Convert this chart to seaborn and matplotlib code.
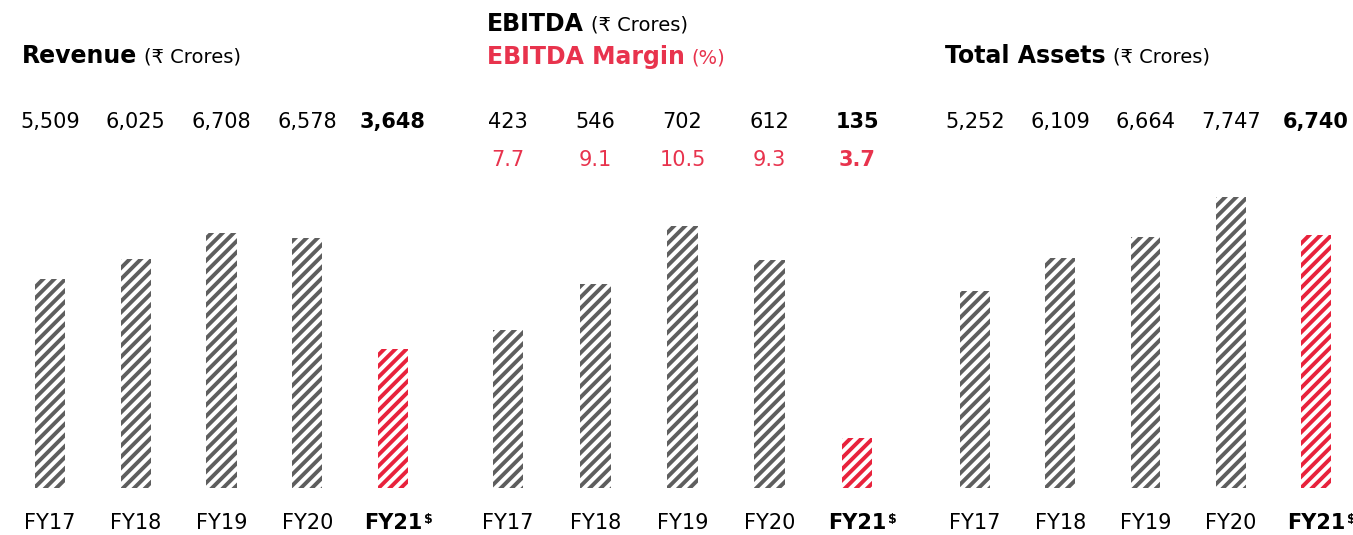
"""
Revenue / EBITDA / Total Assets hatched bar panels, FY17-FY21.
"""

import matplotlib

matplotlib.use("Agg")
import matplotlib.pyplot as plt
import matplotlib.transforms as mtransforms
import seaborn as sns

years = ["FY17", "FY18", "FY19", "FY20", "FY21"]
revenue = [5509, 6025, 6708, 6578, 3648]
ebitda = [423, 546, 702, 612, 135]
ebitda_margin = [7.7, 9.1, 10.5, 9.3, 3.7]
total_assets = [5252, 6109, 6664, 7747, 6740]

GRAY = "#5e5e5e"
RED = "#e8223c"
TXT_RED = "#e8334d"
W, H = 1353, 535

sns.set_theme(style="white")
plt.rcParams["font.family"] = ["DejaVu Sans", "Noto Sans"]
plt.rcParams["text.color"] = "black"
plt.rcParams["hatch.linewidth"] = 2.8
plt.rcParams["mathtext.fontset"] = "dejavusans"

fig = plt.figure(figsize=(W / 100, H / 100), dpi=100)


def fy(px):
    return 1 - px / H


def panel(first_px, step_px, values, ylim_max):
    left = first_px - 0.4 * step_px
    width = 4.8 * step_px
    bottom, top = 488, 188
    ax = fig.add_axes([left / W, fy(bottom), width / W, (bottom - top) / H])
    colors = [GRAY] * 4 + [RED]
    sns.barplot(x=years, y=values, hue=years, palette=colors, width=0.35,
                legend=False, ax=ax, saturation=1)
    for patch, c in zip(ax.patches, colors):
        patch.set_facecolor("white")
        patch.set_edgecolor(c)
        patch.set_hatch("///")
        patch.set_linewidth(0)
    ax.set_xlim(-0.4, 4.4)
    ax.set_ylim(0, ylim_max)
    ax.axis("off")
    return ax


def value_row(ax, labels, y_px, color="black"):
    tr = mtransforms.blended_transform_factory(ax.transData, fig.transFigure)
    for i, lab in enumerate(labels):
        ax.text(i, fy(y_px), lab, transform=tr, ha="center", va="center",
                fontsize=15, color=color,
                fontweight="bold" if i == 4 else "normal")


def year_row(ax):
    tr = mtransforms.blended_transform_factory(ax.transData, fig.transFigure)
    for i, yr in enumerate(years):
        t = ax.text(i, fy(523), yr, transform=tr, ha="center", va="center",
                    fontsize=15, color="black",
                    fontweight="bold" if i == 4 else "normal")
        if i == 4:
            ax.annotate("$", xy=(1, 1), xycoords=t, xytext=(1, 0),
                        textcoords="offset points", ha="left", va="top",
                        fontsize=9, fontweight="bold", color="black")


def title(x_px, y_px, bold, rest, color="black"):
    t = fig.text(x_px / W, fy(y_px), bold, ha="left", va="center",
                 fontsize=17, fontweight="bold", color=color)
    fig.text(0, 0, "")
    plt.annotate(rest, xy=(1, 0.45), xycoords=t, xytext=(5, 0),
                 textcoords="offset points", ha="left", va="center",
                 fontsize=14, color=color, annotation_clip=False)


ax1 = panel(50, 85.75, revenue, 300 * 26.3)
ax2 = panel(508, 87.25, ebitda, 300 * 2.68)
ax3 = panel(975, 85.25, total_assets, 300 * 26.6)

value_row(ax1, [f"{v:,}" for v in revenue], 122)
value_row(ax2, [f"{v:,}" for v in ebitda], 122)
value_row(ax2, [f"{v:.1f}" for v in ebitda_margin], 160, color=TXT_RED)
value_row(ax3, [f"{v:,}" for v in total_assets], 122)

for ax in (ax1, ax2, ax3):
    year_row(ax)

title(22, 56, "Revenue", "(₹ Crores)")
title(487, 24, "EBITDA", "(₹ Crores)")
title(487, 57, "EBITDA Margin", "(%)", color=TXT_RED)
title(945, 56, "Total Assets", "(₹ Crores)")

fig.savefig("out.png", dpi=100)
